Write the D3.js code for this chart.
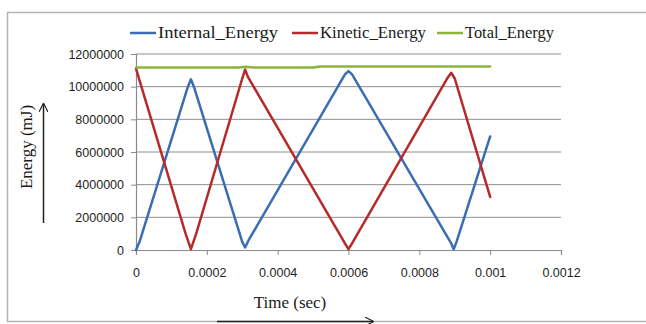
<!DOCTYPE html>
<html>
<head>
<meta charset="utf-8">
<script src="https://cdn.jsdelivr.net/npm/d3@7"></script>
<style>
  html, body { margin: 0; padding: 0; background: #fff; }
  svg { display: block; }
</style>
</head>
<body>
<svg id="chart" width="646" height="324"></svg>
<script>
// values
const internalTime = [0, 0.00001, 0.000145, 0.000155, 0.000165, 0.0003, 0.000308, 0.000318, 0.00059, 0.0006, 0.00061, 0.00089, 0.000897, 0.000905, 0.001];
const internalEnergy = [0, 500000, 9900000, 10450000, 9900000, 500000, 150000, 600000, 10750000, 10950000, 10750000, 400000, 50000, 500000, 6950000];

const kineticTime = [0, 0.00014, 0.000155, 0.00017, 0.0003, 0.000308, 0.000316, 0.00059, 0.0006, 0.00061, 0.00088, 0.00089, 0.0009, 0.001];
const kineticEnergy = [11100000, 1000000, 50000, 1000000, 10500000, 11050000, 10600000, 400000, 50000, 400000, 10550000, 10850000, 10500000, 3250000];

const totalTime = [0, 0.00029, 0.00031, 0.00033, 0.0005, 0.00052, 0.001];
const totalEnergy = [11180000, 11180000, 11220000, 11180000, 11180000, 11240000, 11240000];

const xTicks = [0, 0.0002, 0.0004, 0.0006, 0.0008, 0.001, 0.0012];
const xTickLabels = ["0", "0.0002", "0.0004", "0.0006", "0.0008", "0.001", "0.0012"];
const yTicks = [0, 2000000, 4000000, 6000000, 8000000, 10000000, 12000000];

const seriesNames = ["Internal_Energy", "Kinetic_Energy", "Total_Energy"];
const seriesColors = ["#3b6db4", "#b52a2a", "#8cb43a"];

const svg = d3.select('#chart');

const x = d3.scaleLinear().domain([0, 0.0012]).range([136, 561]);
const y = d3.scaleLinear().domain([0, 12000000]).range([250, 54]);

// outer frame
svg.append('rect')
    .attr('x', 7.5).attr('y', 12.5)
    .attr('width', 660).attr('height', 309)
    .attr('fill', 'none')
    .attr('stroke', '#b4b4b4')
    .attr('stroke-width', 1.5);

// gridlines
svg.append('g')
    .selectAll('line')
    .data(yTicks.slice(1))
    .enter()
    .append('line')
    .attr('x1', x(0)).attr('x2', x(0.0012))
    .attr('y1', d => y(d)).attr('y2', d => y(d))
    .attr('stroke', '#8f8f8f')
    .attr('stroke-width', 1);

// axes
const yAxis = d3.axisLeft(y).tickValues(yTicks).tickSize(5).tickPadding(7).tickFormat(d3.format('d'));
const xAxis = d3.axisBottom(x).tickValues(xTicks).tickSize(5).tickPadding(13).tickFormat((d, i) => xTickLabels[i]);

const gy = svg.append('g').attr('transform', `translate(${x(0)},0)`).call(yAxis);
const gx = svg.append('g').attr('transform', `translate(0,${y(0)})`).call(xAxis);

[gx, gy].forEach(g => {
    g.select('.domain').attr('stroke', '#8a8a8a').attr('stroke-width', 1.2);
    g.selectAll('.tick line').attr('stroke', '#8a8a8a');
    g.selectAll('.tick text')
        .attr('fill', '#1e1e1e')
        .style('font-family', '"Liberation Sans", Arial, sans-serif')
        .style('font-size', '12.5px');
});

// lines
const line = d3.line().x(d => x(d[0])).y(d => y(d[1]));
const seriesData = [
    d3.zip(internalTime, internalEnergy),
    d3.zip(kineticTime, kineticEnergy),
    d3.zip(totalTime, totalEnergy)
];

svg.append('g')
    .selectAll('path')
    .data(seriesData)
    .enter()
    .append('path')
    .attr('d', line)
    .attr('fill', 'none')
    .attr('stroke', (d, i) => seriesColors[i])
    .attr('stroke-width', 2.5)
    .attr('stroke-linejoin', 'round')
    .attr('stroke-linecap', 'round');

// legend
const legendX = [130, 292, 437];
const legendW = [120, 106, 89];
const legend = svg.append('g')
    .selectAll('g')
    .data(seriesNames)
    .enter()
    .append('g')
    .attr('transform', (d, i) => `translate(${legendX[i]},33)`);

legend.append('line')
    .attr('x1', 0).attr('x2', 26)
    .attr('stroke', (d, i) => seriesColors[i])
    .attr('stroke-width', 2.5);

legend.append('text')
    .attr('x', 28).attr('y', 5)
    .attr('textLength', (d, i) => legendW[i])
    .attr('lengthAdjust', 'spacingAndGlyphs')
    .style('font-family', '"Liberation Serif", "Times New Roman", serif')
    .style('font-size', '17px')
    .attr('fill', '#1a1a1a')
    .text(d => d);

// axis titles with arrows
svg.append('defs').append('marker')
    .attr('id', 'arrow')
    .attr('viewBox', '0 0 10 10')
    .attr('refX', 9).attr('refY', 5)
    .attr('markerWidth', 9).attr('markerHeight', 9)
    .attr('markerUnits', 'userSpaceOnUse')
    .attr('orient', 'auto')
    .append('path')
    .attr('d', 'M0,0 L10,5 L0,10')
    .attr('fill', 'none')
    .attr('stroke', '#222')
    .attr('stroke-width', 1.3);

svg.append('text')
    .attr('x', 290).attr('y', 308)
    .attr('text-anchor', 'middle')
    .style('font-family', '"Liberation Serif", "Times New Roman", serif')
    .style('font-size', '17px')
    .attr('fill', '#1a1a1a')
    .text('Time (sec)');

svg.append('line')
    .attr('x1', 217).attr('x2', 373)
    .attr('y1', 321.5).attr('y2', 321.5)
    .attr('stroke', '#222')
    .attr('stroke-width', 1.5)
    .attr('marker-end', 'url(#arrow)');

svg.append('text')
    .attr('transform', 'translate(32,147) rotate(-90)')
    .attr('text-anchor', 'middle')
    .style('font-family', '"Liberation Serif", "Times New Roman", serif')
    .style('font-size', '17px')
    .attr('fill', '#1a1a1a')
    .text('Energy (mJ)');

svg.append('line')
    .attr('x1', 43.5).attr('x2', 43.5)
    .attr('y1', 223).attr('y2', 104)
    .attr('stroke', '#222')
    .attr('stroke-width', 1.5)
    .attr('marker-end', 'url(#arrow)');
</script>
</body>
</html>
